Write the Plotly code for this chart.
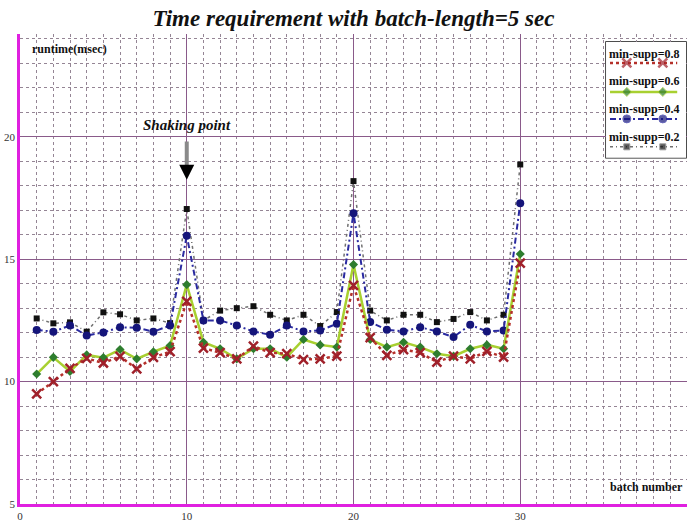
import plotly.graph_objects as go

batch = list(range(1, 31))

supp_08 = [9.5, 10.0, 10.54, 10.95, 10.76, 11.03, 10.52, 10.99, 11.22, 13.28,
           11.37, 11.18, 10.93, 11.45, 11.18, 11.14, 10.9, 10.93, 11.04, 13.93,
           11.8, 11.07, 11.31, 11.18, 10.8, 11.04, 10.93, 11.23, 11.0, 14.84]
supp_06 = [10.31, 10.99, 10.41, 11.09, 10.98, 11.31, 10.93, 11.22, 11.47, 13.96,
           11.61, 11.34, 10.93, 11.34, 11.34, 11.0, 11.72, 11.5, 11.41, 14.78,
           11.72, 11.41, 11.61, 11.41, 11.14, 11.04, 11.34, 11.5, 11.34, 15.21]
supp_04 = [12.11, 12.04, 12.29, 11.88, 12.01, 12.22, 12.2, 12.04, 12.29, 15.96,
           12.5, 12.5, 12.29, 12.05, 11.91, 12.29, 12.05, 12.09, 12.36, 16.88,
           12.43, 12.12, 12.05, 12.22, 12.05, 11.82, 12.32, 12.05, 12.09, 17.29]
supp_02 = [12.58, 12.38, 12.42, 12.04, 12.83, 12.75, 12.5, 12.58, 12.39, 17.05,
           12.5, 12.9, 13.0, 13.08, 12.73, 12.5, 12.73, 12.27, 12.84, 18.19,
           12.9, 12.5, 12.73, 12.73, 12.43, 12.56, 12.84, 12.5, 12.73, 18.87]

series_names = ["min-supp=0.8", "min-supp=0.6", "min-supp=0.4", "min-supp=0.2"]
x_ticks = [0, 10, 20, 30]
y_ticks = [5, 10, 15, 20]

SERIF = "Liberation Serif, Times New Roman, serif"
MAG = "#e020e0"

styles = [
    dict(line=dict(color="#b5302a", width=2.5, dash="dot"),
         marker=dict(symbol="x-thin", size=9, color="#a0202a", line=dict(width=2.5, color="#a0202a"))),
    dict(line=dict(color="#a8d030", width=2.5, dash="solid"),
         marker=dict(symbol="diamond", size=7, color="#2e7d2e")),
    dict(line=dict(color="#2a2aa0", width=2, dash="6px,3px,2px,3px"),
         marker=dict(symbol="circle", size=8, color="#15157a")),
    dict(line=dict(color="#707070", width=1.5, dash="3px,3px,1px,3px"),
         marker=dict(symbol="square", size=6, color="#111111")),
]

fig = go.Figure()
order = [3, 2, 1, 0]
data = [supp_08, supp_06, supp_04, supp_02]
for i in order:
    fig.add_trace(go.Scatter(x=batch, y=data[i], mode="lines+markers", name=series_names[i],
                             line=styles[i]["line"], marker=styles[i]["marker"], showlegend=False))

# custom legend (samples on an overlay axis)
leg_line_y = [0.819, 0.569, 0.336, 0.095]
leg_text_y = [0.895, 0.66, 0.42, 0.178]
for i in range(4):
    sz = styles[i]["marker"]["size"]
    fig.add_trace(go.Scatter(x=[0.05, 0.26, 0.71, 0.89], y=[leg_line_y[i]] * 4,
                             mode="lines+markers", xaxis="x2", yaxis="y2",
                             line=styles[i]["line"],
                             marker=dict(styles[i]["marker"], size=[0, sz, sz, 0]),
                             showlegend=False, hoverinfo="skip"))

annotations = []
for i in range(4):
    annotations.append(dict(x=0.48, y=leg_text_y[i], xref="x2", yref="y2", text="<b>" + series_names[i] + "</b>",
                            showarrow=False, font=dict(family=SERIF, size=12, color="#111"),
                            xanchor="center", yanchor="middle"))

annotations += [
    dict(x=0.6, y=23.6, xref="x", yref="y", text="<b>runtime(msec)</b>", showarrow=False,
         xanchor="left", yanchor="middle", font=dict(family=SERIF, size=12, color="#111")),
    dict(x=39.9, y=5.68, xref="x", yref="y", text="<b>batch number</b>", showarrow=False,
         xanchor="right", yanchor="middle", font=dict(family=SERIF, size=12, color="#111")),
    dict(x=10, y=20.5, xref="x", yref="y", text="<b><i>Shaking point</i></b>", showarrow=False,
         xanchor="center", yanchor="middle", font=dict(family=SERIF, size=15, color="#111")),
    # shaft
    dict(x=10, y=18.85, xref="x", yref="y", ax=0, ay=-25, text="", showarrow=True,
         arrowhead=0, arrowwidth=4, arrowcolor="#8a8a8a"),
    # head
    dict(x=10, y=18.25, xref="x", yref="y", ax=0, ay=-15, text="", showarrow=True,
         arrowhead=2, arrowsize=1.2, arrowwidth=2.5, arrowcolor="#000"),
    # axis arrows
    dict(x=0, y=24.25, xref="x", yref="y", ax=0, ay=20, text="", showarrow=True,
         arrowhead=2, arrowsize=1.3, arrowwidth=2, arrowcolor=MAG),
    dict(x=40.05, y=5, xref="x", yref="y", ax=-20, ay=0, text="", showarrow=True,
         arrowhead=2, arrowsize=1.3, arrowwidth=2, arrowcolor=MAG),
]

fig.update_layout(
    width=689, height=521,
    margin=dict(l=20, r=2, t=34, b=17, autoexpand=False),
    paper_bgcolor="white", plot_bgcolor="white",
    title=dict(text="<b><i>Time requirement with batch-length=5 sec</i></b>", x=0.5, xref="paper",
               y=0.965, yref="container", xanchor="center", yanchor="middle",
               font=dict(family=SERIF, size=23, color="#111")),
    xaxis=dict(range=[0, 40], tickmode="array", tickvals=x_ticks, ticktext=[str(v) for v in x_ticks],
               showgrid=True, gridcolor="#8a5a8a", gridwidth=1.3, zeroline=False,
               showline=True, linecolor=MAG, linewidth=2.5, ticks="", automargin=False,
               tickfont=dict(family=SERIF, size=11, color="#333"),
               minor=dict(tickmode="linear", tick0=0, dtick=1, showgrid=True,
                          gridcolor="#958595", griddash="dot", gridwidth=1)),
    yaxis=dict(range=[5, 24.2], tickmode="array", tickvals=y_ticks, ticktext=[str(v) for v in y_ticks],
               showgrid=True, gridcolor="#8a5a8a", gridwidth=1.3, zeroline=False,
               showline=True, linecolor=MAG, linewidth=2.5, ticks="", automargin=False,
               tickfont=dict(family=SERIF, size=11, color="#333"),
               minor=dict(tickmode="linear", tick0=0, dtick=1, showgrid=True,
                          gridcolor="#958595", griddash="dot", gridwidth=1)),
    xaxis2=dict(domain=[0.8786, 0.9985], range=[0, 1], visible=False, anchor="y2", fixedrange=True),
    yaxis2=dict(domain=[0.7366, 0.983], range=[0, 1], visible=False, anchor="x2", fixedrange=True),
    shapes=[dict(type="rect", xref="paper", yref="paper", x0=0.8786, x1=0.9985, y0=0.7366, y1=0.983,
                 line=dict(color="#111", width=1.5), fillcolor="white", layer="between")],
    annotations=annotations,
)

fig.write_html("out.html", config={"displayModeBar": False},
               post_script="document.body.style.margin='0px';document.body.style.padding='0px';")
